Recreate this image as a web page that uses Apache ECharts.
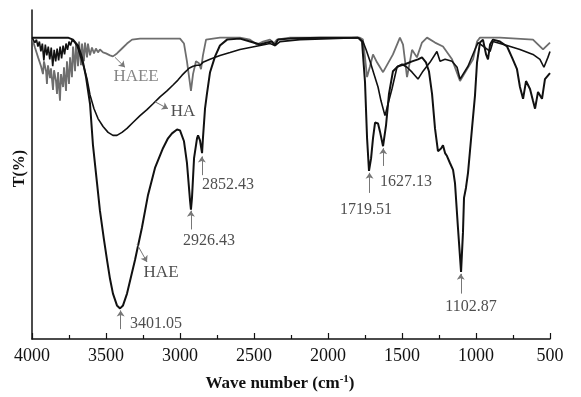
<!DOCTYPE html>
<html>
<head>
<meta charset="utf-8">
<script src="https://cdn.jsdelivr.net/npm/echarts@6/dist/echarts.min.js"></script>
<style>html,body{margin:0;padding:0;background:#fff}#c{width:581px;height:397px}</style>
</head>
<body>
<div id="c"></div>
<script>
// ---- data (wavenumber cm-1, transmittance %) ----
var xTicks = [4000, 3500, 3000, 2500, 2000, 1500, 1000, 500];

var haeWave = [4000,3878,3757,3723,3689,3662,3635,3608,3588,3561,3541,3514,3493,3473,3453,3426,3405,3385,3358,3331,3304,3257,3216,3169,3115,3081,3054,3020,3000,2973,2953,2932,2926,2919,2905,2885,2878,2865,2851,2845,2831,2818,2797,2763,2730,2682,2595,2527,2459,2412,2378,2358,2338,2257,2054,1797,1770,1750,1736,1723,1709,1696,1682,1662,1649,1628,1608,1588,1561,1527,1480,1432,1392,1365,1338,1318,1297,1277,1257,1236,1223,1209,1196,1176,1155,1142,1122,1101,1088,1081,1068,1054,1027,1007,993,973,953,932,919,905,885,838,790,757,723,703,682,662,635,615,601,581,554,534,500];
var haeT    = [91.6,91.6,91.6,91.0,89.2,85.6,79.6,71.5,58.9,47.5,39.0,30.3,24.0,18.3,13.8,10.2,9.3,10.2,13.8,18.9,24.0,33.9,43.8,52.0,58.0,61.0,62.5,63.7,63.4,60.1,53.5,42.0,39.3,42.9,55.0,61.0,61.9,60.4,56.5,61.0,70.0,74.5,81.1,85.9,89.2,91.0,91.3,90.4,89.5,90.1,90.4,89.2,91.0,91.3,91.6,91.6,90.4,78.1,61.0,51.1,54.9,61.0,65.8,65.5,63.1,58.6,64.9,74.5,81.4,82.9,83.5,84.4,85.0,85.6,84.1,81.4,74.5,64.0,57.1,57.9,58.9,56.5,55.6,53.5,51.4,47.4,33.9,20.4,32.4,42.9,45.9,50.5,64.0,73.9,84.1,90.1,91.0,86.5,85.0,89.5,91.0,90.4,88.9,85.6,82.0,76.6,73.0,78.4,76.0,72.4,70.0,75.1,73.0,79.0,80.8];

var haWave = [4000,3990,3980,3970,3960,3950,3940,3930,3920,3910,3900,3890,3880,3870,3860,3850,3840,3830,3820,3810,3800,3790,3780,3770,3760,3750,3740,3730,3716,3696,3676,3649,3628,3608,3581,3554,3520,3486,3453,3426,3392,3358,3318,3270,3223,3182,3135,3088,3047,3014,2986,2959,2939,2926,2912,2885,2865,2845,2797,2730,2662,2595,2527,2459,2392,2358,2324,2189,1986,1797,1764,1743,1716,1689,1662,1642,1615,1568,1534,1500,1466,1432,1392,1358,1311,1264,1243,1209,1162,1128,1108,1054,1007,986,939,905,885,790,703,615,568,541,514,500];
var haT    = [91.6,91.3,90.1,91.0,88.9,90.4,87.4,89.8,84.7,89.5,86.2,88.9,85.0,88.6,82.9,87.9,84.4,88.3,84.7,88.9,85.3,89.2,86.5,89.8,87.9,90.4,89.2,90.7,90.4,89.2,86.5,82.6,79.0,74.2,70.0,67.0,64.6,62.8,61.9,61.9,62.8,64.0,65.8,67.9,69.7,71.5,73.6,75.4,77.2,78.7,80.2,81.4,82.3,82.0,82.9,83.2,83.2,84.1,85.0,86.2,87.1,88.0,88.6,89.2,89.8,89.2,90.4,91.0,91.3,91.6,90.4,88.0,84.4,80.5,76.6,72.4,67.9,76.0,82.6,83.5,82.6,81.1,79.0,81.4,84.1,87.4,84.4,85.0,84.4,82.6,79.0,82.9,88.0,90.1,88.6,87.4,90.4,89.2,88.0,86.5,85.0,82.6,85.6,87.4];

var haeeWave = [4000,3980,3959,3939,3926,3919,3905,3899,3892,3878,3872,3858,3851,3838,3831,3824,3811,3804,3790,3784,3770,3764,3750,3743,3730,3723,3709,3703,3689,3682,3669,3662,3649,3642,3628,3622,3608,3595,3581,3568,3554,3541,3520,3500,3473,3453,3426,3392,3358,3324,3270,3135,3000,2973,2953,2932,2926,2912,2892,2872,2858,2845,2824,2730,2595,2527,2480,2439,2392,2365,2345,2257,1784,1764,1750,1736,1716,1696,1669,1628,1615,1561,1514,1493,1466,1432,1399,1365,1331,1277,1223,1162,1108,1061,1020,993,973,838,615,547,500];
var haeeT    = [91.6,88.6,85.6,82.9,80.5,84.4,81.4,77.5,83.2,79.3,82.3,75.7,81.7,78.4,74.5,81.1,72.4,80.5,76.6,82.6,75.4,84.4,77.5,85.6,79.6,88.9,81.4,89.8,82.9,90.4,83.2,89.8,84.4,90.1,85.6,89.8,86.2,88.6,86.8,88.3,87.1,88.0,87.1,86.8,86.2,85.9,86.8,88.3,89.8,91.0,91.3,91.3,91.3,89.8,84.4,77.5,75.4,80.5,84.4,83.8,82.0,86.2,91.0,91.6,91.6,91.0,89.5,90.4,91.0,89.8,91.0,91.6,91.6,91.0,85.6,79.6,82.9,86.5,84.1,81.1,81.1,86.5,91.6,89.5,79.6,87.9,85.6,90.1,91.6,90.1,88.9,85.0,78.4,82.0,85.0,90.4,91.6,91.6,91.0,88.0,90.1];

// curve name labels and their leader arrows
var curveLabels = [
  {text: 'HAEE', wave: 3297, t: 79.9, color: '#666666'},
  {text: 'HA',   wave: 2980, t: 69.1, color: '#222222'},
  {text: 'HAE',  wave: 3128, t: 20.1, color: '#222222'}
];
var curveArrows = [
  [[3439, 85.6], [3372, 82.6]],
  [[3169, 72.1], [3081, 70.0]],
  [[3290, 28.8], [3223, 23.4]]
];
// peak annotations
var peakLabels = [
  {text: '3401.05', wave: 3162, t: 4.5},
  {text: '2926.43', wave: 2804, t: 30.0},
  {text: '2852.43', wave: 2676, t: 46.8},
  {text: '1719.51', wave: 1743, t: 39.3},
  {text: '1627.13', wave: 1473, t: 47.7},
  {text: '1102.87', wave: 1034, t: 9.9}
];
var peakArrows = [
  [[3401.05, 3.0], [3401.05, 8.7]],
  [[2926.43, 33.3], [2926.43, 39.0]],
  [[2852.43, 49.8], [2852.43, 55.5]],
  [[1719.51, 44.4], [1719.51, 50.5]],
  [[1627.13, 52.6], [1627.13, 58.0]],
  [[1102.87, 13.8], [1102.87, 19.8]]
];

function zip(a, b) { return a.map(function (v, i) { return [v, b[i]]; }); }
var serif = '"Liberation Serif", "DejaVu Serif", serif';

var chart = echarts.init(document.getElementById('c'), null, {renderer: 'canvas'});
chart.setOption({
  animation: false,
  backgroundColor: '#ffffff',
  grid: {left: 32, right: 31, top: 10, bottom: 54},
  xAxis: {
    type: 'value', inverse: true, min: 500, max: 4000, interval: 500,
    axisLine: {lineStyle: {color: '#111', width: 1.5}},
    axisTick: {inside: true, length: 6, lineStyle: {color: '#111', width: 1.2}},
    minorTick: {show: true, splitNumber: 2, length: 4, lineStyle: {color: '#111', width: 1.2}},
    axisLabel: {color: '#111', fontFamily: serif, fontSize: 18, margin: 8,
      formatter: function (v) { return String(v); }},
    splitLine: {show: false},
    name: '{a|Wave number (cm}{s|-1}{a|)}',
    nameLocation: 'middle', nameGap: 35,
    nameTextStyle: {padding: [0, 22, 0, 0], rich: {
      a: {fontFamily: serif, fontWeight: 'bold', fontSize: 17, color: '#111'},
      s: {fontFamily: serif, fontWeight: 'bold', fontSize: 11, color: '#111', verticalAlign: 'top', padding: [0, 0, 8, 0]}
    }}
  },
  yAxis: {
    type: 'value', min: 0, max: 100,
    axisLine: {show: true, lineStyle: {color: '#111', width: 1.5}},
    axisTick: {show: false}, axisLabel: {show: false}, splitLine: {show: false},
    name: 'T(%)', nameLocation: 'middle', nameGap: 4, nameRotate: 90,
    nameTextStyle: {fontFamily: serif, fontWeight: 'bold', fontSize: 16, color: '#111', padding: [0, 0, 0, 12]}
  },
  series: [
    {type: 'line', name: 'HAEE', data: zip(haeeWave, haeeT), showSymbol: false, symbol: 'none',
      lineStyle: {color: '#6e6e6e', width: 1.8}, z: 2},
    {type: 'line', name: 'HA', data: zip(haWave, haT), showSymbol: false, symbol: 'none',
      lineStyle: {color: '#111111', width: 1.6}, z: 3},
    {type: 'line', name: 'HAE', data: zip(haeWave, haeT), showSymbol: false, symbol: 'none',
      lineStyle: {color: '#111111', width: 2}, z: 4},
    {type: 'lines', coordinateSystem: 'cartesian2d', z: 5,
      symbol: ['none', 'arrow'], symbolSize: 6,
      lineStyle: {color: '#777', width: 1, opacity: 1},
      data: curveArrows.concat(peakArrows).map(function (p) { return {coords: p}; })},
    {type: 'scatter', symbolSize: 0, z: 6, silent: true,
      data: curveLabels.map(function (l) { return {value: [l.wave, l.t], name: l.text,
        label: {color: l.color}}; }),
      label: {show: true, position: 'inside', formatter: '{b}', fontFamily: serif, fontSize: 17}},
    {type: 'scatter', symbolSize: 0, z: 6, silent: true,
      data: peakLabels.map(function (l) { return {value: [l.wave, l.t], name: l.text}; }),
      label: {show: true, position: 'inside', formatter: '{b}', fontFamily: serif, fontSize: 16, color: '#222'}}
  ]
});
</script>
</body>
</html>
